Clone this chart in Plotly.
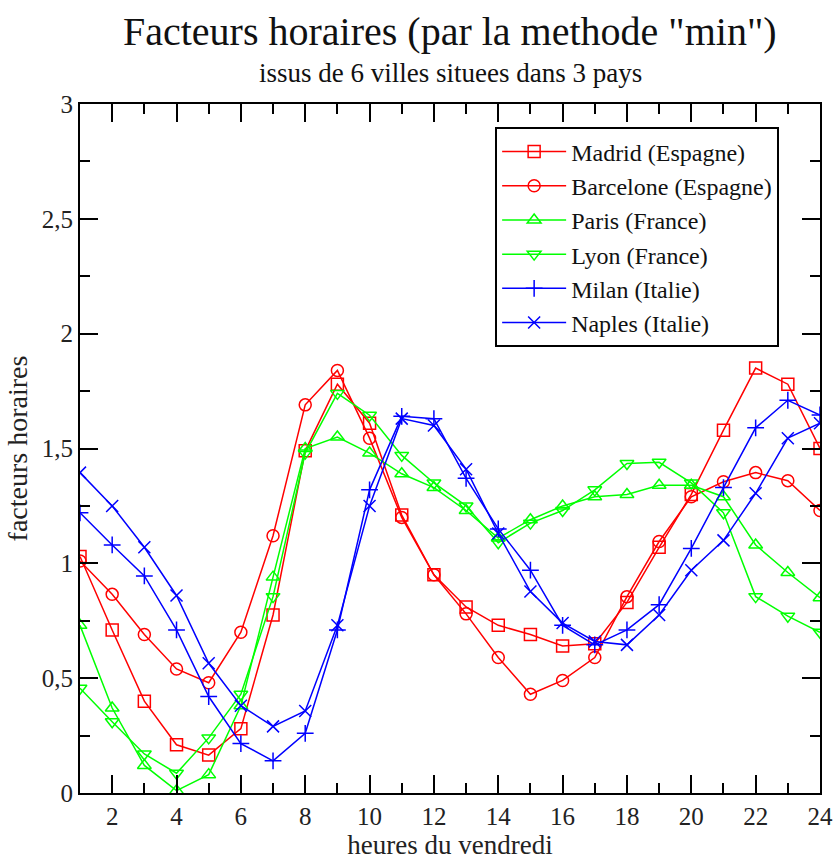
import plotly.graph_objects as go

hours = list(range(1, 25))

madrid = [1.03, 0.71, 0.40, 0.21, 0.165, 0.28, 0.775, 1.49, 1.78, 1.61, 1.21, 0.95,
          0.81, 0.73, 0.69, 0.64, 0.65, 0.83, 1.07, 1.30, 1.58, 1.85, 1.78, 1.50]
barcelone = [1.01, 0.865, 0.69, 0.54, 0.48, 0.70, 1.12, 1.69, 1.84, 1.545, 1.20, 0.95,
             0.78, 0.59, 0.43, 0.49, 0.59, 0.855, 1.095, 1.29, 1.355, 1.395, 1.36, 1.23]
paris = [0.73, 0.37, 0.12, 0.01, 0.08, 0.38, 0.94, 1.50, 1.55, 1.48, 1.39, 1.33,
         1.23, 1.11, 1.19, 1.25, 1.29, 1.30, 1.34, 1.34, 1.29, 1.08, 0.96, 0.85]
lyon = [0.456, 0.31, 0.17, 0.086, 0.24, 0.43, 0.855, 1.48, 1.74, 1.645, 1.47, 1.35,
        1.25, 1.09, 1.175, 1.23, 1.32, 1.435, 1.44, 1.35, 1.22, 0.855, 0.77, 0.70]
milan = [1.22, 1.08, 0.945, 0.71, 0.42, 0.215, 0.14, 0.26, 0.71, 1.32, 1.64, 1.63,
         1.37, 1.15, 0.97, 0.73, 0.645, 0.71, 0.82, 1.065, 1.33, 1.59, 1.71, 1.646]
naples = [1.395, 1.25, 1.07, 0.86, 0.565, 0.38, 0.29, 0.357, 0.73, 1.25, 1.63, 1.60,
          1.41, 1.13, 0.877, 0.74, 0.66, 0.645, 0.775, 0.97, 1.10, 1.305, 1.545, 1.61]

names = ["Madrid (Espagne)", "Barcelone (Espagne)", "Paris (France)",
         "Lyon (France)", "Milan (Italie)", "Naples (Italie)"]
series = [madrid, barcelone, paris, lyon, milan, naples]
colors = ["#FF0000", "#FF0000", "#00FF00", "#00FF00", "#0000FF", "#0000FF"]
symbols = ["square-open", "circle-open", "triangle-up-open", "triangle-down-open",
           "cross-thin-open", "x-thin-open"]

x_ticks = [2, 4, 6, 8, 10, 12, 14, 16, 18, 20, 22, 24]
x_ticklabels = [str(v) for v in x_ticks]
y_ticks = [0, 0.5, 1, 1.5, 2, 2.5, 3]
y_ticklabels = ["0", "0,5", "1", "1,5", "2", "2,5", "3"]

FONT = "Liberation Serif"

fig = go.Figure()
for name, ys, c, s in zip(names, series, colors, symbols):
    fig.add_trace(go.Scatter(
        x=hours, y=ys, name=name, mode="lines+markers",
        line=dict(color=c, width=1.5),
        marker=dict(symbol=s, size=12, color=c, line=dict(color=c, width=1.5)),
    ))

axis_common = dict(
    showline=True, linecolor="black", linewidth=2, mirror="allticks",
    ticks="inside", ticklen=18, tickwidth=2, tickcolor="black",
    showgrid=False, zeroline=False, automargin=False,
    tickfont=dict(family=FONT, size=25, color="#222"),
)

fig.update_layout(
    width=838, height=860,
    paper_bgcolor="white", plot_bgcolor="white",
    margin=dict(l=80, r=18, t=104, b=67),
    font=dict(family=FONT, color="#111"),
    showlegend=True,
    legend=dict(
        x=0.561, y=0.966, xanchor="left", yanchor="top",
        bgcolor="white", bordercolor="black", borderwidth=2,
        font=dict(family=FONT, size=24, color="#111"),
        tracegroupgap=0, itemwidth=64,
    ),
    xaxis=dict(
        range=[1, 24], tickvals=x_ticks, ticktext=x_ticklabels,
        minor=dict(dtick=1, tick0=0, ticks="inside", ticklen=10, tickwidth=2, tickcolor="black"),
        title=dict(text="heures du vendredi", font=dict(family=FONT, size=27, color="#222"), standoff=4),
        **axis_common,
    ),
    yaxis=dict(
        range=[0, 3], tickvals=y_ticks, ticktext=y_ticklabels,
        minor=dict(dtick=0.25, tick0=0, ticks="inside", ticklen=10, tickwidth=2, tickcolor="black"),
        title=dict(text="facteurs horaires", font=dict(family=FONT, size=28, color="#222"), standoff=6),
        **axis_common,
    ),
    annotations=[
        dict(text='Facteurs horaires (par la methode "min")', x=0.5, y=1,
             xref="paper", yref="paper", showarrow=False, yanchor="middle", yshift=73,
             font=dict(family=FONT, size=40, color="#111")),
        dict(text="issus de 6 villes situees dans 3 pays", x=0.5, y=1,
             xref="paper", yref="paper", showarrow=False, yanchor="middle", yshift=31,
             font=dict(family=FONT, size=27, color="#111")),
    ],
)

fig.write_html("out.html")
